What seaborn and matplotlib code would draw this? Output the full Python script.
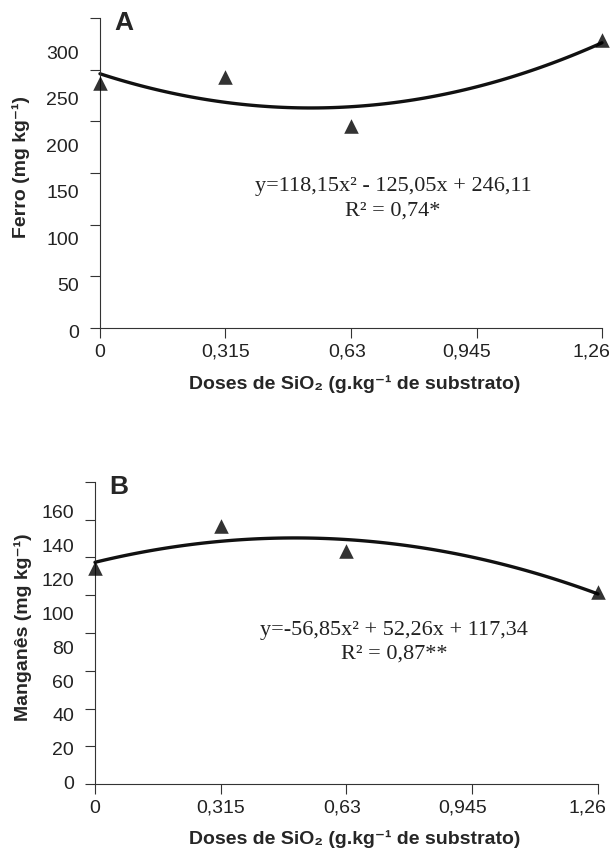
import numpy as np
import pandas as pd
import seaborn as sns
import matplotlib.pyplot as plt
import matplotlib.transforms as mtransforms

# Dados
doses = [0, 0.315, 0.63, 1.26]
ferro = [236.8, 243.2, 195.6, 279.2]
manganes = [114.4, 136.7, 123.4, 101.7]

x_ticks = [0, 0.315, 0.63, 0.945, 1.26]
x_ticklabels = ["0", "0,315", "0,63", "0,945", "1,26"]
ferro_ticks = [0, 50, 100, 150, 200, 250, 300]
mn_ticks = [0, 20, 40, 60, 80, 100, 120, 140, 160]

ferro_eq = ["y=118,15x² - 125,05x + 246,11", "R² = 0,74*"]
mn_eq = ["y=-56,85x² + 52,26x + 117,34", "R² = 0,87**"]

sns.set_style("ticks")
plt.rcParams["font.family"] = ["Liberation Sans", "DejaVu Sans"]

XLABEL = "Doses de SiO₂ (g.kg⁻¹ de substrato)"

# deslocamento (px) dos rótulos do eixo x, como no original
X_LABEL_SHIFT = [0, 0, -4, -10, -11]


def painel(ax, valores, yticks, letra, ylabel, eq, eq_xy, lab_shift):
    df = pd.DataFrame({"dose": doses, "teor": valores})
    sns.regplot(
        data=df, x="dose", y="teor", order=2, ci=None, ax=ax,
        color="black", marker="^",
        scatter_kws={"s": 110, "clip_on": False, "zorder": 3, "linewidths": 0},
        line_kws={"lw": 2.4, "clip_on": False, "color": "#111111"},
    )
    ax.set_xlim(0, 1.26)
    ax.set_ylim(0, yticks[-1])
    ax.set_yticks(yticks)
    ax.tick_params(axis="y", labelleft=False, length=7.5, width=0.8, color="#333333")
    ax.tick_params(axis="x", length=7.5, width=0.8, color="#333333", pad=4)
    ax.set_xticks(x_ticks)
    ax.set_xticklabels(x_ticklabels, fontsize=14, color="#222222")
    for lab, dx in zip(ax.get_xticklabels(), X_LABEL_SHIFT):
        lab.set_transform(lab.get_transform() +
                          mtransforms.ScaledTranslation(dx / 100, 0, ax.figure.dpi_scale_trans))
    sns.despine(ax=ax)
    for s in ["left", "bottom"]:
        ax.spines[s].set_linewidth(0.8)
        ax.spines[s].set_color("#333333")

    # rótulos do eixo y (deslocados como no original)
    trans = mtransforms.offset_copy(
        mtransforms.blended_transform_factory(ax.transAxes, ax.transData),
        fig=ax.figure, x=-21, y=0, units="dots")
    for v in yticks:
        ax.text(0, 0.9 * v + lab_shift, str(v), transform=trans, ha="right",
                va="center", fontsize=14, color="#222222", clip_on=False)

    ax.set_xlabel(XLABEL, fontsize=14, fontweight="bold", va="top")
    ax.set_ylabel(ylabel, fontsize=14, fontweight="bold")
    ax.text(0.047, 0.985, letra, transform=ax.transAxes, fontsize=19,
            fontweight="bold", ha="center", va="center")
    ax.text(eq_xy[0], eq_xy[1], eq[0], transform=ax.transAxes, ha="center",
            va="center", fontsize=16, family="Liberation Serif", color="#222222")
    ax.text(eq_xy[0], eq_xy[1] - 0.078, eq[1], transform=ax.transAxes,
            ha="center", va="center", fontsize=16, family="Liberation Serif",
            color="#222222")


fig = plt.figure(figsize=(6.1, 8.52), dpi=100)
ax1 = fig.add_axes([0.1639, 0.615, 0.823, 0.3638])
ax2 = fig.add_axes([0.1557, 0.0798, 0.8246, 0.3545])

painel(ax1, ferro, ferro_ticks, "A", "Ferro (mg kg⁻¹)", ferro_eq,
       (0.584, 0.455), -5)
painel(ax2, manganes, mn_ticks, "B", "Manganês (mg kg⁻¹)", mn_eq,
       (0.594, 0.507), -0.5)

ax1.xaxis.set_label_coords(0.508, -0.152)
ax2.xaxis.set_label_coords(0.517, -0.152)
ax1.yaxis.set_label_coords(-0.139, 0.52)
ax2.yaxis.set_label_coords(-0.125, 0.52)

plt.savefig("out.png", dpi=100)
